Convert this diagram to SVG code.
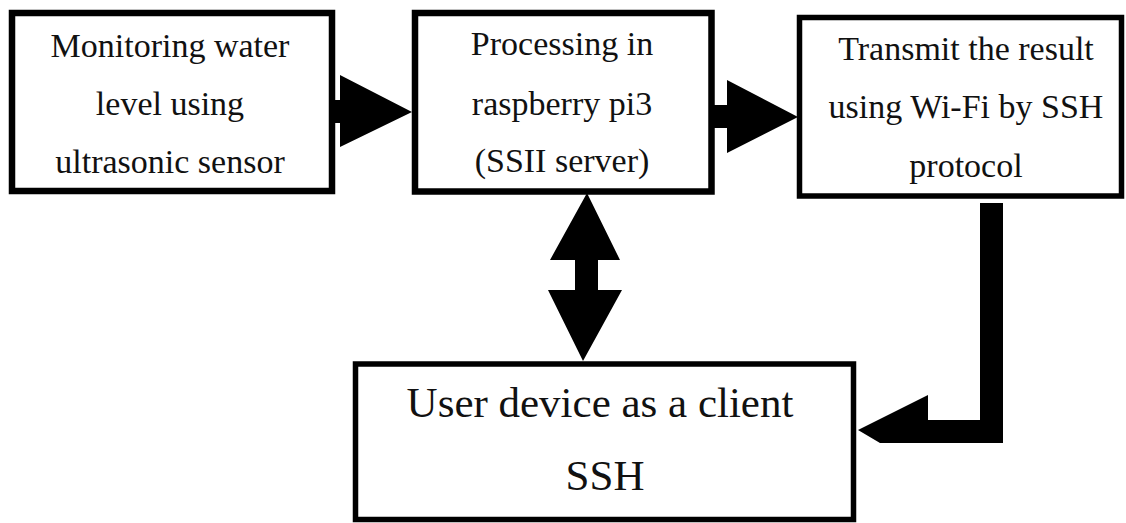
<svg xmlns="http://www.w3.org/2000/svg" width="1126" height="523" viewBox="0 0 1126 523">
<style>
.box{fill:#fff;stroke:#000;}
.t{font-family:'Liberation Serif','Times New Roman',serif;font-size:34px;fill:#111;text-anchor:middle;}
.tl{font-size:43px;}
.conn{fill:#000;stroke:none;}
</style>
<rect width="1126" height="523" fill="#fff"/>
<g id="node-monitoring">
<rect class="box" x="12" y="13" width="320" height="178" stroke-width="6.5"/>
<text class="t" x="170" y="57">Monitoring water</text>
<text class="t" x="170" y="115">level using</text>
<text class="t" x="170" y="173">ultrasonic sensor</text>
</g>
<g id="node-processing">
<rect class="box" x="415" y="13" width="296.5" height="178.5" stroke-width="6.5"/>
<text class="t" x="562" y="55">Processing in</text>
<text class="t" x="562" y="115">raspberry pi3</text>
<text class="t" x="562" y="172">(SSII server)</text>
</g>
<g id="node-transmit">
<rect class="box" x="799.5" y="17.5" width="322" height="178.5" stroke-width="5.5"/>
<text class="t" x="966" y="60">Transmit the result</text>
<text class="t" x="966" y="118">using Wi-Fi by SSH</text>
<text class="t" x="966" y="177">protocol</text>
</g>
<g id="node-user">
<rect class="box" x="355.5" y="364" width="498" height="155.5" stroke-width="5.5"/>
<text class="t tl" x="600" y="417">User device as a client</text>
<text class="t tl" x="605" y="490">SSH</text>
</g>
<g id="connectors">
<path class="conn" d="M335 100 L340 100 L340 75 L412 112 L340 147 L340 123 L335 123 Z"/>
<path class="conn" d="M714 105 L727 105 L727 80 L798 117 L727 153 L727 128 L714 128 Z"/>
<path class="conn" d="M587 193 L620 260 L598 260 L598 290 L622 290 L583 361 L548 290 L575 290 L575 260 L550 260 Z"/>
<path class="conn" d="M980 203 L1003 203 L1003 443 L880 443 L858 430 L928 395 L928 420 L980 420 Z"/>
</g>
</svg>
